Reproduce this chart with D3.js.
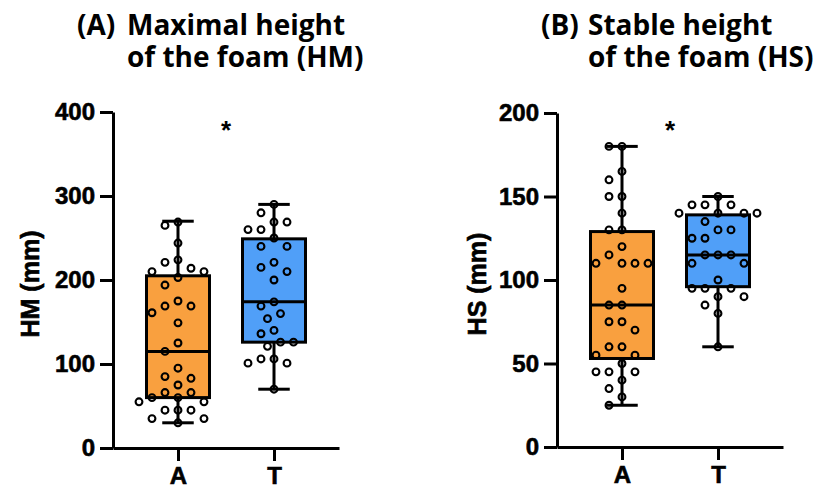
<!DOCTYPE html>
<html>
<head>
<meta charset="utf-8">
<script src="https://cdn.jsdelivr.net/npm/d3@7"></script>
<style>
  body { margin: 0; background: #fff; }
</style>
</head>
<body>
<div id="container"></div>
<script>
// groups on the x axis
const groups = ["A", "T"];

// (A) maximal height of the foam, mm
const hmA = [269, 265, 244, 224, 221, 214, 210, 210, 203, 194, 175, 169, 169, 161, 149, 125, 115,
  95, 85, 83, 75, 66, 66, 60, 60, 55, 55, 45, 45, 45, 35, 35, 30];
const hmT = [290, 280, 269, 269, 260, 260, 250, 240, 240, 221, 215, 210, 200, 174, 169, 160, 154,
  140, 136, 126, 126, 121, 106, 106, 101, 101, 70];
// min, q1, median, q3, max
const hmBoxA = [30, 60, 115, 205, 270];
const hmBoxT = [70, 126, 174, 249, 290];

// (B) stable height of the foam, mm
const hsA = [180, 180, 165, 160, 150, 150, 140, 130, 130, 120, 115, 110, 110, 110, 110, 95, 85,
  85, 75, 75, 70, 60, 60, 55, 55, 50, 45, 45, 45, 40, 35, 30, 25];
const hsT = [150, 145, 145, 145, 140, 140, 140, 140, 135, 130, 130, 125, 125, 115, 115, 115, 110,
  110, 100, 95, 95, 95, 90, 90, 85, 80, 60];
const hsBoxA = [25, 53, 85, 129, 180];
const hsBoxT = [60, 96, 115, 139, 150];

const hmTicks = [0, 100, 200, 300, 400];
const hsTicks = [0, 50, 100, 150, 200];

const colors = { A: "#F9A03F", T: "#509FF8" };

const width = 818,
  height = 490;

const svg = d3
  .select("#container")
  .append("svg")
  .attr("width", width)
  .attr("height", height);

const panels = [
  {
    tag: "(A)", line1: "Maximal height", line2: "of the foam (HM)",
    tagX: 77, textX: 127,
    yLabel: "HM (mm)", yLabelX: 30,
    ticks: hmTicks, values: { A: hmA, T: hmT }, boxes: { A: hmBoxA, T: hmBoxT },
    left: 113, right: 339, top: 112, bottom: 448
  },
  {
    tag: "(B)", line1: "Stable height", line2: "of the foam (HS)",
    tagX: 541, textX: 588,
    yLabel: "HS (mm)", yLabelX: 477,
    ticks: hsTicks, values: { A: hsA, T: hsT }, boxes: { A: hsBoxA, T: hsBoxT },
    left: 557, right: 783, top: 113, bottom: 447
  }
];

const tickFont = "'Liberation Sans', Arial, sans-serif";
const titleFont = "'Open Sans', sans-serif";

// simple beeswarm: push points sideways until they stop overlapping
function swarm(vals, y, cx) {
  const step = 6.5,
    minDist = 12.5;
  const placed = [];
  vals
    .slice()
    .sort((a, b) => b - a)
    .forEach(v => {
      const py = y(v);
      for (let k = 0; k < 20; k++) {
        const off = k === 0 ? 0 : Math.ceil(k / 2) * step * (k % 2 ? -1 : 1);
        const px = cx + off;
        const ok = placed.every(p => Math.hypot(p.x - px, p.y - py) >= minDist);
        if (ok) {
          placed.push({ x: px, y: py, v: v });
          break;
        }
      }
    });
  return placed;
}

panels.forEach(p => {
  const g = svg.append("g");

  const y = d3
    .scaleLinear()
    .domain([0, d3.max(p.ticks)])
    .range([p.bottom, p.top]);

  const x = d3
    .scalePoint()
    .domain(groups)
    .range([p.left, p.right])
    .padding(0.677);

  // title, one text with tspans for the two lines
  const title = g
    .append("text")
    .attr("font-family", titleFont)
    .attr("font-weight", "bold")
    .attr("font-size", "28px")
    .attr("fill", "#000");
  title.append("tspan").attr("x", p.tagX).attr("y", 35).text(p.tag);
  title.append("tspan").attr("x", p.textX).attr("y", 35).text(p.line1);
  title.append("tspan").attr("x", p.textX).attr("y", 67).text(p.line2);

  // boxes
  const boxW = 63;
  groups.forEach(k => {
    const b = p.boxes[k];
    const cx = x(k);
    const bg = g.append("g").attr("stroke", "#000").attr("stroke-width", 3);

    bg.append("line")
      .attr("x1", cx).attr("x2", cx)
      .attr("y1", y(b[4])).attr("y2", y(b[0]));
    [b[0], b[4]].forEach(v => {
      bg.append("line")
        .attr("x1", cx - boxW / 4).attr("x2", cx + boxW / 4)
        .attr("y1", y(v)).attr("y2", y(v));
    });
    bg.append("rect")
      .attr("x", cx - boxW / 2)
      .attr("y", y(b[3]))
      .attr("width", boxW)
      .attr("height", y(b[1]) - y(b[3]))
      .attr("fill", colors[k]);
    bg.append("line")
      .attr("x1", cx - boxW / 2).attr("x2", cx + boxW / 2)
      .attr("y1", y(b[2])).attr("y2", y(b[2]));

    // individual points
    g.append("g")
      .selectAll("circle")
      .data(swarm(p.values[k], y, cx))
      .enter()
      .append("circle")
      .attr("cx", d => d.x)
      .attr("cy", d => d.y)
      .attr("r", 3.4)
      .attr("fill", "none")
      .attr("stroke", "#000")
      .attr("stroke-width", 2.1);
  });

  // y axis
  const yAxis = g
    .append("g")
    .attr("transform", `translate(${p.left},0)`)
    .call(d3.axisLeft(y).tickValues(p.ticks).tickSize(13).tickSizeOuter(0).tickPadding(5));

  // x axis
  const xAxis = g
    .append("g")
    .attr("transform", `translate(0,${p.bottom})`)
    .call(d3.axisBottom(x).tickSize(13).tickSizeOuter(0).tickPadding(6));

  [yAxis, xAxis].forEach(a => {
    a.select(".domain").attr("stroke", "#000").attr("stroke-width", 3);
    a.selectAll(".tick line").attr("stroke", "#000").attr("stroke-width", 3);
    a.selectAll("text")
      .attr("font-family", tickFont)
      .attr("font-weight", "bold")
      .attr("font-size", "24px")
      .attr("fill", "#000")
      .attr("stroke", "#000")
      .attr("stroke-width", 0.6);
  });

  // y axis title
  g.append("text")
    .attr("transform", `translate(${p.yLabelX},${(p.top + p.bottom) / 2 + 4}) rotate(-90)`)
    .attr("text-anchor", "middle")
    .attr("dominant-baseline", "central")
    .attr("font-family", tickFont)
    .attr("font-weight", "bold")
    .attr("font-size", "25px")
    .attr("stroke", "#000")
    .attr("stroke-width", 0.6)
    .text(p.yLabel);

  // significance star
  g.append("text")
    .attr("x", (x("A") + x("T")) / 2)
    .attr("y", 139)
    .attr("text-anchor", "middle")
    .attr("font-family", tickFont)
    .attr("font-weight", "bold")
    .attr("font-size", "26px")
    .text("*");
});
</script>
</body>
</html>
